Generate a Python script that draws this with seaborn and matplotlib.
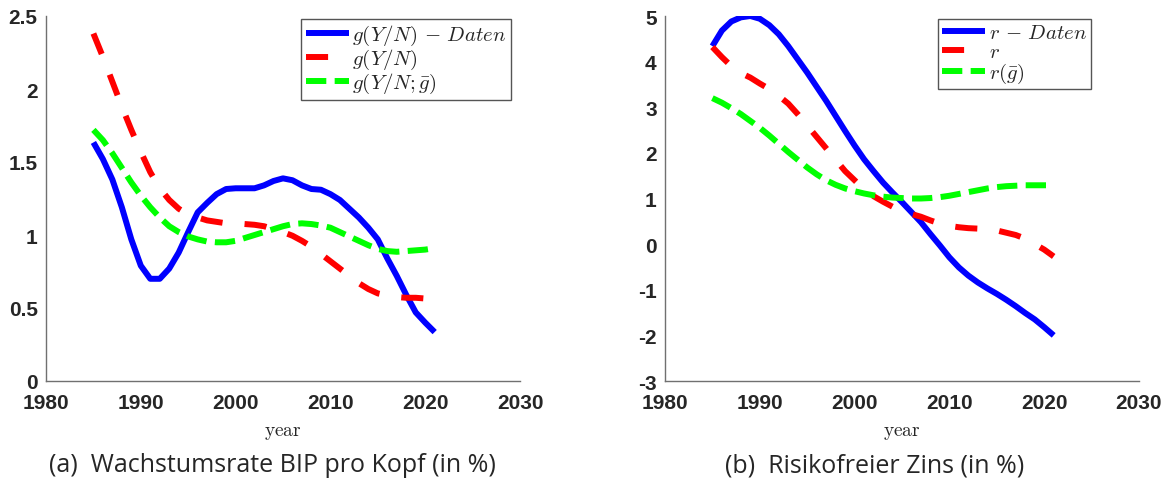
import numpy as np
import pandas as pd
import matplotlib
matplotlib.use("Agg")
import matplotlib.pyplot as plt
import seaborn as sns

years = list(range(1985, 2022))

g_daten = [1.634, 1.52, 1.38, 1.19, 0.97, 0.79, 0.70, 0.70, 0.77, 0.88, 1.02, 1.155,
           1.22, 1.28, 1.315, 1.32, 1.32, 1.32, 1.34, 1.37, 1.388, 1.375, 1.34, 1.315,
           1.31, 1.28, 1.24, 1.18, 1.12, 1.05, 0.97, 0.84, 0.72, 0.59, 0.47, 0.40, 0.335]
g_model = [2.38, 2.22, 2.05, 1.88, 1.72, 1.57, 1.43, 1.32, 1.24, 1.18, 1.14, 1.12,
           1.10, 1.09, 1.08, 1.08, 1.075, 1.07, 1.06, 1.04, 1.02, 0.995, 0.96, 0.92,
           0.87, 0.82, 0.77, 0.72, 0.67, 0.63, 0.60, 0.585, 0.575, 0.57, 0.57, 0.565, 0.55]
g_gbar = [1.72, 1.65, 1.56, 1.46, 1.36, 1.27, 1.19, 1.12, 1.06, 1.02, 0.99, 0.97,
          0.955, 0.95, 0.95, 0.96, 0.98, 1.0, 1.02, 1.04, 1.06, 1.075, 1.08, 1.075,
          1.065, 1.05, 1.02, 0.99, 0.96, 0.93, 0.905, 0.89, 0.885, 0.89, 0.895, 0.90, 0.91]

r_daten = [4.34, 4.68, 4.88, 4.97, 5.0, 4.94, 4.80, 4.60, 4.34, 4.05, 3.76, 3.45,
           3.14, 2.81, 2.48, 2.16, 1.86, 1.60, 1.35, 1.13, 0.92, 0.70, 0.48, 0.22,
           -0.03, -0.29, -0.51, -0.69, -0.84, -0.97, -1.09, -1.22, -1.36, -1.51, -1.65, -1.82, -2.0]
r_model = [4.32, 4.10, 3.90, 3.75, 3.65, 3.52, 3.40, 3.25, 3.08, 2.85, 2.60, 2.35,
           2.10, 1.85, 1.60, 1.40, 1.20, 1.05, 0.93, 0.82, 0.72, 0.66, 0.60, 0.52,
           0.45, 0.40, 0.37, 0.35, 0.34, 0.33, 0.30, 0.25, 0.20, 0.12, 0.0, -0.12, -0.27]
r_gbar = [3.20, 3.10, 2.98, 2.85, 2.70, 2.55, 2.38, 2.20, 2.02, 1.85, 1.68, 1.53,
          1.40, 1.30, 1.22, 1.16, 1.11, 1.07, 1.04, 1.02, 1.01, 1.0, 1.0, 1.01,
          1.03, 1.06, 1.10, 1.14, 1.18, 1.22, 1.25, 1.27, 1.28, 1.29, 1.29, 1.29, 1.29]

labels_a = [r"$g(Y/N)\,-\,Daten$", r"$g(Y/N)$", r"$g(Y/N;\bar{g})$"]
labels_b = [r"$r\,-\,Daten$", r"$r$", r"$r(\bar{g})$"]
xticks = [1980, 1990, 2000, 2010, 2020, 2030]
yticks_a = [0, 0.5, 1, 1.5, 2, 2.5]
ytick_labels_a = ["0", "0.5", "1", "1.5", "2", "2.5"]
yticks_b = [-3, -2, -1, 0, 1, 2, 3, 4, 5]
captions = ["(a)  Wachstumsrate BIP pro Kopf (in %)", "(b)  Risikofreier Zins (in %)"]

sns.set_theme(style="white")
plt.rcParams["mathtext.fontset"] = "cm"
plt.rcParams["axes.unicode_minus"] = False
plt.rcParams["font.family"] = ["Liberation Sans", "DejaVu Sans"]

fig = plt.figure(figsize=(11.68, 4.89), dpi=100)
W, H = 1168, 489
def add_ax(x0, x1, y0, y1):
    return fig.add_axes([x0 / W, 1 - y1 / H, (x1 - x0) / W, (y1 - y0) / H])

ax1 = add_ax(46, 520, 17, 382)
ax2 = add_ax(665, 1139, 17, 382)

colors = ["#0000FF", "#FF0000", "#00FF00"]
styles = ["-", (0, (3.7, 3.7)), (0, (3.4, 1.4))]
lw = 4.3

def draw(ax, series, labels):
    for s, lab, c, ls in zip(series, labels, colors, styles):
        df = pd.DataFrame({"year": years, "val": s})
        sns.lineplot(data=df, x="year", y="val", ax=ax, color=c, linewidth=lw,
                     linestyle=ls, label=lab, solid_capstyle="butt", dash_capstyle="butt")

draw(ax1, [g_daten, g_model, g_gbar], labels_a)
draw(ax2, [r_daten, r_model, r_gbar], labels_b)

for ax, yt, ylim, anchor in [(ax1, yticks_a, (0, 2.5), (0.981, 0.992)),
                             (ax2, yticks_b, (-3, 5), (0.899, 0.992))]:
    ax.set_xlim(1980, 2030)
    ax.set_ylim(*ylim)
    ax.set_xticks(xticks)
    ax.set_yticks(yt)
    for sp in ["top", "right"]:
        ax.spines[sp].set_visible(False)
    for sp in ["left", "bottom"]:
        ax.spines[sp].set_color("#707070")
        ax.spines[sp].set_linewidth(1.0)
    ax.tick_params(axis="both", direction="in", length=4, width=1.0, color="#707070",
                   labelsize=15, labelcolor="#262626")
    ax.tick_params(axis="x", pad=9)
    ax.tick_params(axis="y", pad=6)
    for t in ax.get_xticklabels() + ax.get_yticklabels():
        t.set_fontweight("bold")
    ax.set_xlabel(r"$\mathrm{year}$", fontsize=14, color="#262626", labelpad=8)
    ax.set_ylabel("")
    leg = ax.legend(loc="upper right", bbox_to_anchor=anchor, fontsize=15,
                    frameon=True, fancybox=False, handlelength=2.1, handletextpad=0.15,
                    labelspacing=0.0, borderpad=0.2, borderaxespad=0.0)
    leg.get_frame().set_edgecolor("#555555")
    leg.get_frame().set_linewidth(1.0)
    leg.get_frame().set_facecolor("white")
    leg.get_frame().set_alpha(1)

ax1.set_yticklabels(ytick_labels_a)

fig.text(272 / W, 1 - 466 / H, captions[0], ha="center", va="center",
         fontsize=18, family="Open Sans", color="#262626")
fig.text(875 / W, 1 - 466 / H, captions[1], ha="center", va="center",
         fontsize=18, family="Open Sans", color="#262626")

fig.savefig("out.png", dpi=100, facecolor="white")
